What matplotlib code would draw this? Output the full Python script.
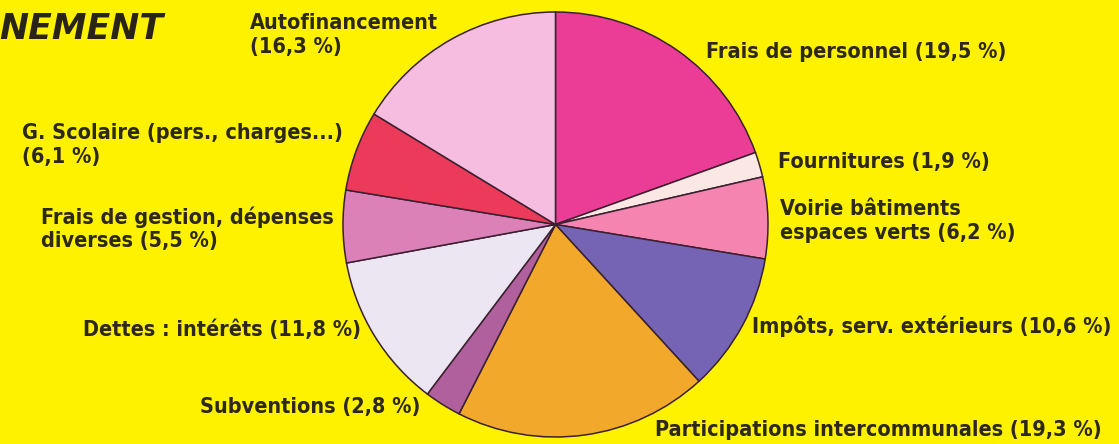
import matplotlib
matplotlib.use("Agg")
import matplotlib.pyplot as plt
from matplotlib import font_manager as fm

W, H = 1119, 444

categories = [
    "Frais de personnel", "Fournitures", "Voirie bâtiments espaces verts",
    "Impôts, serv. extérieurs", "Participations intercommunales", "Subventions",
    "Dettes : intérêts", "Frais de gestion, dépenses diverses",
    "G. Scolaire (pers., charges...)", "Autofinancement",
]
values = [19.5, 1.9, 6.2, 10.6, 19.3, 2.8, 11.8, 5.5, 6.1, 16.3]
labels = [
    "Frais de personnel (19,5 %)",
    "Fournitures (1,9 %)",
    "Voirie bâtiments\nespaces verts (6,2 %)",
    "Impôts, serv. extérieurs (10,6 %)",
    "Participations intercommunales (19,3 %)",
    "Subventions (2,8 %)",
    "Dettes : intérêts (11,8 %)",
    "Frais de gestion, dépenses\ndiverses (5,5 %)",
    "G. Scolaire (pers., charges...)\n(6,1 %)",
    "Autofinancement\n(16,3 %)",
]
colors = ["#ec3d96", "#fbe8e4", "#f585b0", "#7564b4", "#f2a82a",
          "#b0609c", "#ece6f2", "#dc80b8", "#ec3a5a", "#f7bde0"]
title = "NEMENT"

# label anchor positions in pixel coords (x left, y of text centre from top)
label_pos = [
    (706, 52), (778, 162), (780, 221), (752, 326), (655, 430),
    (200, 407), (83, 330), (41, 229), (22, 145), (250, 35),
]

bg = "#fff200"
fig = plt.figure(figsize=(W / 100, H / 100), dpi=100, facecolor=bg)
ax = fig.add_axes([0, 0, 1, 1])
ax.set_facecolor(bg)
ax.set_xlim(0, W)
ax.set_ylim(0, H)
ax.set_aspect("equal")
ax.axis("off")

ax.pie(values, colors=colors, startangle=90, counterclock=False,
       center=(555.5, H - 224.5), radius=212.5,
       wedgeprops=dict(edgecolor="#3a2030", linewidth=1.1))
ax.set_xlim(0, W)
ax.set_ylim(0, H)

fp = fm.FontProperties(family="DejaVu Sans", stretch="condensed",
                       weight="bold", size=15.5)
for lab, (x, y) in zip(labels, label_pos):
    ax.text(x, H - y, lab, ha="left", va="center", fontproperties=fp,
            color="#2e2818", linespacing=1.2)

ax.text(163, H - 29, title, ha="right", va="center", fontsize=25,
        fontweight="black", fontstyle="italic", family=["DejaVu Sans"],
        color="#2a2418")

fig.savefig("out.png", dpi=100, facecolor=bg)
